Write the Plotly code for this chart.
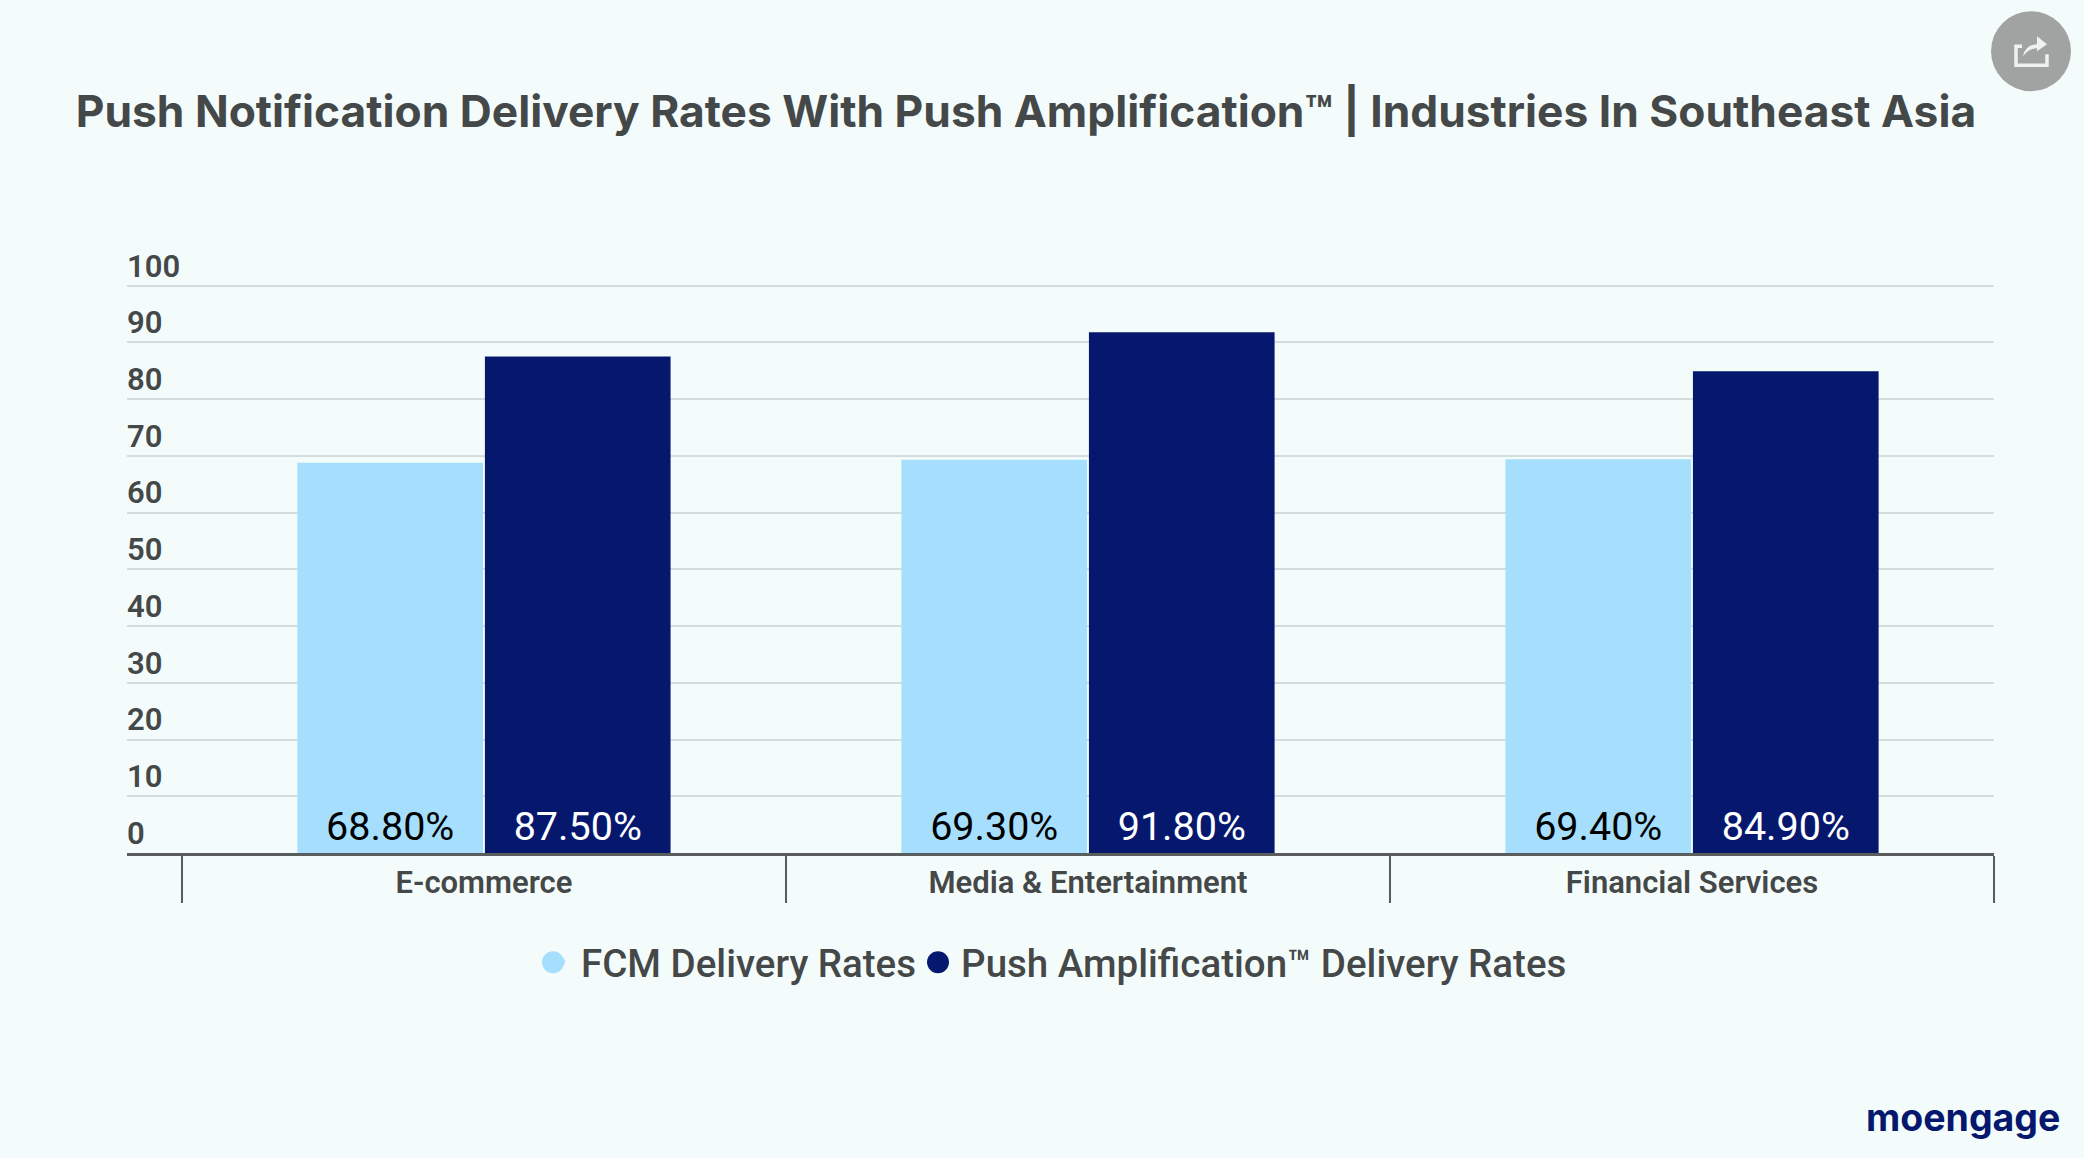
import plotly.graph_objects as go

categories = ["E-commerce", "Media & Entertainment", "Financial Services"]
fcm_rates = [68.8, 69.3, 69.4]
push_rates = [87.5, 91.8, 84.9]
fcm_name = "FCM Delivery Rates"
push_name = "Push Amplification™ Delivery Rates"
y_ticks = list(range(0, 101, 10))
title = "<b>Push Notification Delivery Rates With Push Amplification™ | Industries In Southeast Asia</b>"

W, H = 2084, 1158
L, R, T, B = 127, 1994, 245.8, 852.7
BG = "#f4fcfb"
LIGHT = "#a5dffd"
NAVY = "#05186e"
GREY = "#454848"


def px(x):  # page pixels to paper coords
    return (x - L) / (R - L)


def py(y):
    return (B - y) / (B - T)


fig = go.Figure()
for name, vals, col, tcol in [(fcm_name, fcm_rates, LIGHT, "#000000"),
                              (push_name, push_rates, NAVY, "#ffffff")]:
    fig.add_trace(go.Bar(x=categories, y=vals, marker=dict(color=col, line_width=0),
                         text=[f"{v:.2f}%" for v in vals], textposition="inside",
                         insidetextanchor="start", textangle=0, constraintext="none",
                         textfont=dict(family="Roboto", size=39.5, color=tcol),
                         showlegend=False))
    # legend dot stays small, the round shape below gives it the real size
    fig.add_trace(go.Scatter(x=[None], y=[None], mode="markers", name=name,
                             marker=dict(color=col, size=8, symbol="circle")))

icon = (f"M {px(2022)} {py(46)} L {px(2016)} {py(46)} L {px(2016)} {py(65)} "
        f"L {px(2047)} {py(65)} L {px(2047)} {py(54)}")
arrow = (f"M {px(2023)} {py(56)} Q {px(2025)} {py(45)} {px(2037)} {py(44)} L {px(2037)} {py(36)} "
         f"L {px(2047)} {py(44)} L {px(2037)} {py(51)} L {px(2037)} {py(48)} "
         f"Q {px(2029)} {py(48)} {px(2023)} {py(56)} Z")


def legend_dot(cx, col):
    return dict(type="circle", xref="paper", yref="paper", x0=px(cx - 11), x1=px(cx + 11),
                y0=py(962 + 11), y1=py(962 - 11), fillcolor=col, line_width=0)


fig.update_layout(
    width=W, height=H,
    margin=dict(l=L, r=W - R, t=T, b=H - B, pad=0),
    paper_bgcolor=BG, plot_bgcolor=BG,
    barmode="group", bargap=0.379, bargroupgap=0.01,
    font=dict(family="Roboto", color=GREY),
    title=dict(text=title, x=0.4923, xanchor="center", y=0.9035, yanchor="middle",
               font=dict(family="Inter", size=44.3, color=GREY)),
    xaxis=dict(type="category", range=[-0.591, 2.5], tickson="boundaries", ticks="outside",
               ticklen=47, tickwidth=1.5, tickcolor="#5a5d5d",
               showline=True, linecolor="#5a5d5d", linewidth=3, showgrid=False,
               tickfont=dict(family="Roboto", size=31, weight=600, color=GREY)),
    yaxis=dict(range=[0, 107], tickvals=y_ticks, ticklabelposition="inside",
               ticklabelshift=-20, ticklabelstandoff=-3, showline=False, zeroline=False,
               gridcolor="#d5dcdc", gridwidth=1.5,
               tickfont=dict(family="Roboto", size=31, weight=600, color=GREY)),
    legend=dict(orientation="h", x=px(1056.5), xanchor="center", y=py(962), yanchor="middle",
                itemwidth=30, bgcolor="rgba(0,0,0,0)",
                font=dict(family="Roboto", size=38.5, weight=500, color=GREY)),
    shapes=[
        dict(type="circle", xref="paper", yref="paper", x0=px(1991), x1=px(2071),
             y0=py(91), y1=py(11), fillcolor="#a1a3a3", line_width=0),
        dict(type="path", xref="paper", yref="paper", path=icon,
             line=dict(color="#eef2f2", width=3.5)),
        dict(type="path", xref="paper", yref="paper", path=arrow,
             fillcolor="#eef2f2", line_width=0),
        legend_dot(553, LIGHT),
        legend_dot(938, NAVY),
    ],
    annotations=[
        dict(text="<b>moengage</b>", xref="paper", yref="paper", x=px(2062), y=py(1117),
             xanchor="right", yanchor="middle", showarrow=False,
             font=dict(family="Inter", size=37.5, color=NAVY)),
    ],
)

fig.write_html("out.html", config={"displayModeBar": False},
               post_script="document.body.style.margin='0';document.body.style.background='%s';" % BG)
